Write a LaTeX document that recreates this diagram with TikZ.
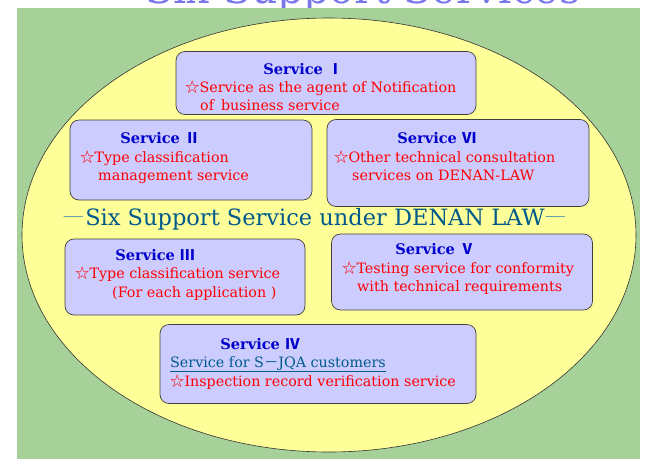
\documentclass[tikz,border=0pt]{standalone}
\usepackage{fontspec}
\setmainfont{DejaVu Serif}
\newfontfamily\cjk{Noto Sans CJK JP}
\usetikzlibrary{positioning, calc}

\definecolor{bggreen}{RGB}{166,209,153}
\definecolor{lawyellow}{RGB}{255,255,153}
\definecolor{boxblue}{RGB}{204,204,255}
\definecolor{headblue}{RGB}{0,0,204}
\definecolor{starred}{RGB}{255,0,0}
\definecolor{lawteal}{RGB}{0,90,140}
\definecolor{dashteal}{RGB}{90,160,170}
\definecolor{titleblue}{RGB}{120,120,235}

\newcommand{\wstar}{{\cjk ☆}}
\newcommand{\lawdash}{{\color{dashteal}\cjk ―}}

\begin{document}
\begin{tikzpicture}[
    x=1pt, y=-1pt,
    service/.style={draw=black!75, line width=0.7pt, rounded corners=9pt,
                    fill=boxblue, inner sep=0pt},
    head/.style={font=\fontsize{14.6}{18}\selectfont\bfseries, text=headblue,
                 anchor=base},
    item/.style={font=\fontsize{14.3}{18}\selectfont, text=starred,
                 anchor=base west, inner sep=0pt},
    jqa/.style={font=\fontsize{14.3}{18}\selectfont, text=lawteal,
                anchor=base west, inner sep=0pt}
]
\useasboundingbox (0,0) rectangle (648,459);

% Title (cut off at the top), then the background over it
\node[font=\fontsize{41}{44}\selectfont, text=titleblue, anchor=base, inner sep=0pt]
   (title) at (363,3) {Six Support Services};
\fill[bggreen] (17,8) rectangle (640,459);

% Outer ellipse
\draw[fill=lawyellow, draw=black!80, line width=0.6pt] (329,235) ellipse (307 and 217);

% Service boxes
\node[service, minimum width=300pt, minimum height=63pt] (s1) at (326,83) {};
\node[service, minimum width=242pt, minimum height=80pt] (s2) at (191,160) {};
\node[service, minimum width=262pt, minimum height=87pt] (s6) at (458,163) {};
\node[service, minimum width=240pt, minimum height=76pt] (s3) at (185,277) {};
\node[service, minimum width=261pt, minimum height=76pt] (s5) at (462,272) {};
\node[service, minimum width=316pt, minimum height=79pt] (s4) at (318,364) {};

% Middle caption
\node[font=\fontsize{22.5}{24}\selectfont, text=lawteal, anchor=base]
   (law) at (315,225)
   {\lawdash Six Support Service under DENAN LAW\lawdash};

% 1) Service I
\node[head] (h1) at (303,74) {Service {\cjk Ⅰ}};
\node[item] (s1a) at (185,92) {\wstar Service as the agent of Notification};
\node[item] (s1b) at (200,110) {of\, business service};

% 2) Service II
\node[head] (h2) at (160,143) {Service {\cjk Ⅱ}};
\node[item] (s2a) at (80,162) {\wstar Type classification};
\node[item] (s2b) at (98,180) {management service};

% 3) Service VI
\node[head] (h6) at (437,143) {Service {\cjk Ⅵ}};
\node[item] (s6a) at (334,162) {\wstar Other technical consultation};
\node[item] (s6b) at (352,180) {services on DENAN-LAW};

% 4) Service III
\node[head] (h3) at (155,260) {Service {\cjk Ⅲ}};
\node[item] (s3a) at (75,278) {\wstar Type classification service};
\node[item] (s3b) at (112,297) {(For each application )};

% 5) Service V
\node[head] (h5) at (435,254) {Service {\cjk Ⅴ}};
\node[item] (s5a) at (342,273) {\wstar Testing service for conformity};
\node[item] (s5b) at (357,291) {with technical requirements};

% 6) Service IV
\node[head] (h4) at (260,349) {Service {\cjk Ⅳ}};
\node[jqa] (s4a) at (170,367) {\underline{Service for S{\cjk －}JQA customers}};
\node[item] (s4b) at (170,386) {\wstar Inspection record verification service};

\end{tikzpicture}
\end{document}
